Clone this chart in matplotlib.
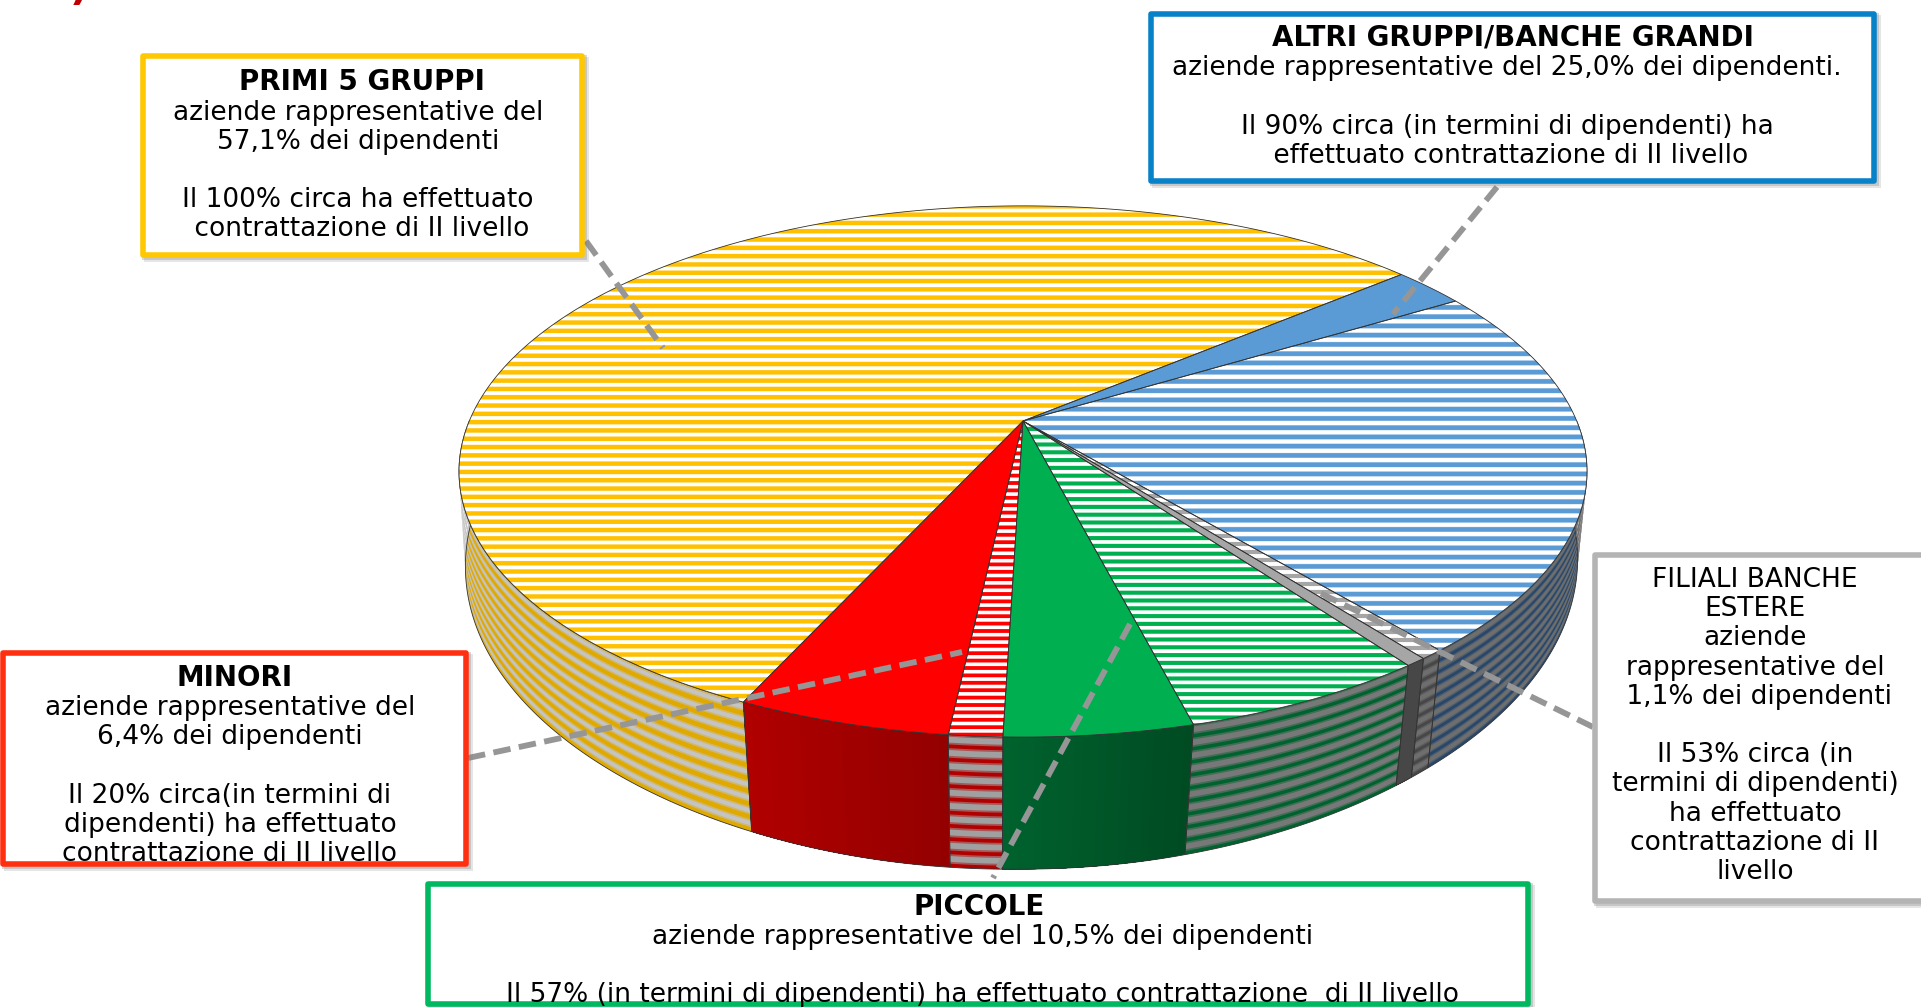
import numpy as np
import matplotlib
matplotlib.use("Agg")
import matplotlib.pyplot as plt
from matplotlib.patches import Polygon, Rectangle
from matplotlib.colors import to_rgb

# ---- data (share of employees, %) ----
groups = ["Primi 5 gruppi", "Altri gruppi/banche grandi", "Filiali banche estere", "Piccole", "Minori"]
group_share = [57.1, 25.0, 1.1, 10.5, 6.4]
# share of each group with second-level bargaining (%)
second_level = [100, 90, 53, 57, 20]

base_col = ["#FFC000", "#5B9BD5", "#A6A6A6", "#00AF50", "#FF0000"]
wall_col = ["#DFA900", "#26476B", "#474747", "#00622E", "#B00000"]
wall_dark = ["#DFA900", "#26476B", "#474747", "#004B22", "#940000"]
wall_band = ["#C4C4C4", "#6E6E6E", "#6E6E6E", "#787878", "#A0A0A0"]
wall_band_w = [0.017, 0.022, 0.022, 0.022, 0.022]
stripe_period = [8.3, 9.25, 8.0, 7.8, 7.4]
stripe_white_at = [418.0, 506.3, 500.0, 612.2, 634.7]
stripe_bias = [0.35, 0.42, 0.45, 0.40, 0.45]

# striped part comes first (clockwise) except for the second group
order_striped_first = [True, False, True, True, True]

W, H = 1921, 1007
fig = plt.figure(figsize=(W/100, H/100), dpi=100)
ax = fig.add_axes([0, 0, 1, 1])
ax.set_xlim(0, W); ax.set_ylim(H, 0); ax.axis("off")
plt.rcParams["font.family"] = ["DejaVu Sans"]

# ---- projection of the two discs ----
K = 0.19
def top(theta):
    t = np.radians(theta); u, v = np.sin(t), -np.cos(t)
    return 1023 + 553.7*u/(1-K*v), 421 + 256*v/(1-K*v)
def bot(theta):
    t = np.radians(theta); u, v = np.sin(t), -np.cos(t)
    x = 1021.5 + 546*u/(1-K*v) - 21*u*v**4
    y = 500 + 299*v/(1-K*v) + 8*np.maximum(-u, 0)
    return x, y

START = 204.7
slices = []
ang = START
for i, (s, p) in enumerate(zip(group_share, second_level)):
    span = s/sum(group_share)*360
    parts = [(p/100, True), (1-p/100, False)]
    if not order_striped_first[i]:
        parts = parts[::-1]
    for frac, striped in parts:
        if frac <= 0:
            continue
        slices.append((ang, ang+span*frac, i, striped))
        ang += span*frac

yy = np.arange(H)+0.5

def mix(a, b, t):
    return np.array(to_rgb(a))*t+np.array(to_rgb(b))*(1-t)

# ---- walls ----
def wall_strip(a0, a1, t0, t1):
    th = np.linspace(a0, a1, max(int(abs(a1-a0)*3), 3))
    x0, y0 = top(th); x1, y1 = bot(th)
    upx, upy = x0+(x1-x0)*t0, y0+(y1-y0)*t0
    lox, loy = x0+(x1-x0)*t1, y0+(y1-y0)*t1
    return np.r_[np.c_[upx, upy], np.c_[lox, loy][::-1]]

for a0, a1, i, striped in slices:
    for shift in (0, -360, 360):
        l, h = max(a0+shift, 90), min(a1+shift, 270)
        if l >= h:
            continue
        if striped:
            ax.add_patch(Polygon(wall_strip(l, h, 0, 1), fc=wall_col[i], ec="none", zorder=2))
            bw = wall_band_w[i]
            for k in range(10):
                c = 0.037+0.1*k
                ax.add_patch(Polygon(wall_strip(l, h, max(c-bw-0.014, 0), c+bw+0.014), fc=wall_band[i], ec="none", alpha=0.55, zorder=2.1))
                ax.add_patch(Polygon(wall_strip(l, h, max(c-bw, 0), c+bw), fc=wall_band[i], ec="none", zorder=2.2))
        else:
            n = 24
            edges = np.linspace(l, h, n+1)
            for j in range(n):
                col = mix(wall_dark[i], wall_col[i], 1-j/(n-1))
                ax.add_patch(Polygon(wall_strip(edges[j], h, 0, 1), fc=col, ec="none", zorder=2))
        ax.add_patch(Polygon(wall_strip(l, h, 0, 1), fc="none", ec="#333333", lw=0.6, zorder=2.5))

# ---- top surface ----
for a0, a1, i, striped in slices:
    th = np.linspace(a0, a1, max(int(abs(a1-a0)*3), 4))
    x, y = top(th)
    pts = np.r_[[[1023, 421]], np.c_[x, y]]
    poly = Polygon(pts, closed=True, fc=base_col[i], ec="none", zorder=3)
    ax.add_patch(poly)
    if striped:
        prof = np.clip(stripe_bias[i]+1.25*np.cos(2*np.pi*(yy-stripe_white_at[i])/stripe_period[i]), 0, 1)[:, None]
        rgb = np.array(to_rgb(base_col[i]))
        img = (rgb*(1-prof)+np.ones(3)*prof).reshape(H, 1, 3)
        im = ax.imshow(img, extent=(0, W, H, 0), aspect="auto", interpolation="nearest", zorder=3.1)
        im.set_clip_path(poly)
    ax.add_patch(Polygon(pts, closed=True, fc="none", ec="#333333", lw=0.6, zorder=3.5))
ax.set_xlim(0, W); ax.set_ylim(H, 0)

# ---- leaders ----
leaders = [((586, 241), (663, 348)), ((1497, 187), (1393, 314)), ((1593, 727), (1314, 590)),
           ((468, 758), (962, 652)), ((1130, 624), (993, 878))]
for (x0, y0), (x1, y1) in leaders:
    ax.plot([x0, x1], [y0, y1], color="#969696", lw=4.2, dashes=(3.0, 1.45), dash_capstyle="butt", zorder=5)

# ---- boxes ----
boxes = [
    (140, 53, 585, 258, "#FFC800"),
    (1148, 11, 1877, 184, "#0782C8"),
    (1592, 552, 1940, 904, "#B4B4B4"),
    (0, 650, 469, 867, "#FF3010"),
    (425, 881, 1531, 1007, "#00B85F"),
]
for x0, y0, x1, y1, c in boxes:
    for off, al in ((2, 0.30), (4, 0.20)):
        ax.add_patch(Rectangle((x0+off, y0+off), x1-x0, y1-y0, fc="#808080", ec="none", alpha=al, zorder=6))
    ax.add_patch(Rectangle((x0+3, y0+3), x1-x0-6, y1-y0-6, fc="white", ec=c, lw=4.0, joinstyle="round", zorder=7))

FS, FS_B = 19, 20
LS = 1.16
def block(x, y, s, bold=False):
    ax.text(x, y, s, ha="center", va="center", ma="center", fontsize=FS_B if bold else FS, linespacing=LS,
            fontweight="bold" if bold else "normal", color="black", zorder=8)

block(362, 82, "PRIMI 5 GRUPPI", True)
block(358, 171, "aziende rappresentative del\n57,1% dei dipendenti\n\nIl 100% circa ha effettuato\n contrattazione di II livello")
block(1513, 37, "ALTRI GRUPPI/BANCHE GRANDI", True)
block(1507, 112, "aziende rappresentative del 25,0% dei dipendenti.\n\nIl 90% circa (in termini di dipendenti) ha\n effettuato contrattazione di II livello")
block(235, 678, "MINORI", True)
block(230, 781, "aziende rappresentative del\n6,4% dei dipendenti\n\nIl 20% circa(in termini di\ndipendenti) ha effettuato\ncontrattazione di II livello")
block(1755, 726, "FILIALI BANCHE\nESTERE\naziende\nrappresentative del\n 1,1% dei dipendenti\n\nIl 53% circa (in\ntermini di dipendenti)\nha effettuato\ncontrattazione di II\nlivello")
block(979, 907, "PICCOLE", True)
block(983, 966, "aziende rappresentative del 10,5% dei dipendenti\n\nIl 57% (in termini di dipendenti) ha effettuato contrattazione  di II livello")

ax.text(79, 9, ")", color="#C00000", fontsize=30, fontweight="bold", ha="center", va="bottom", zorder=8)

fig.savefig("out.png", dpi=100)
